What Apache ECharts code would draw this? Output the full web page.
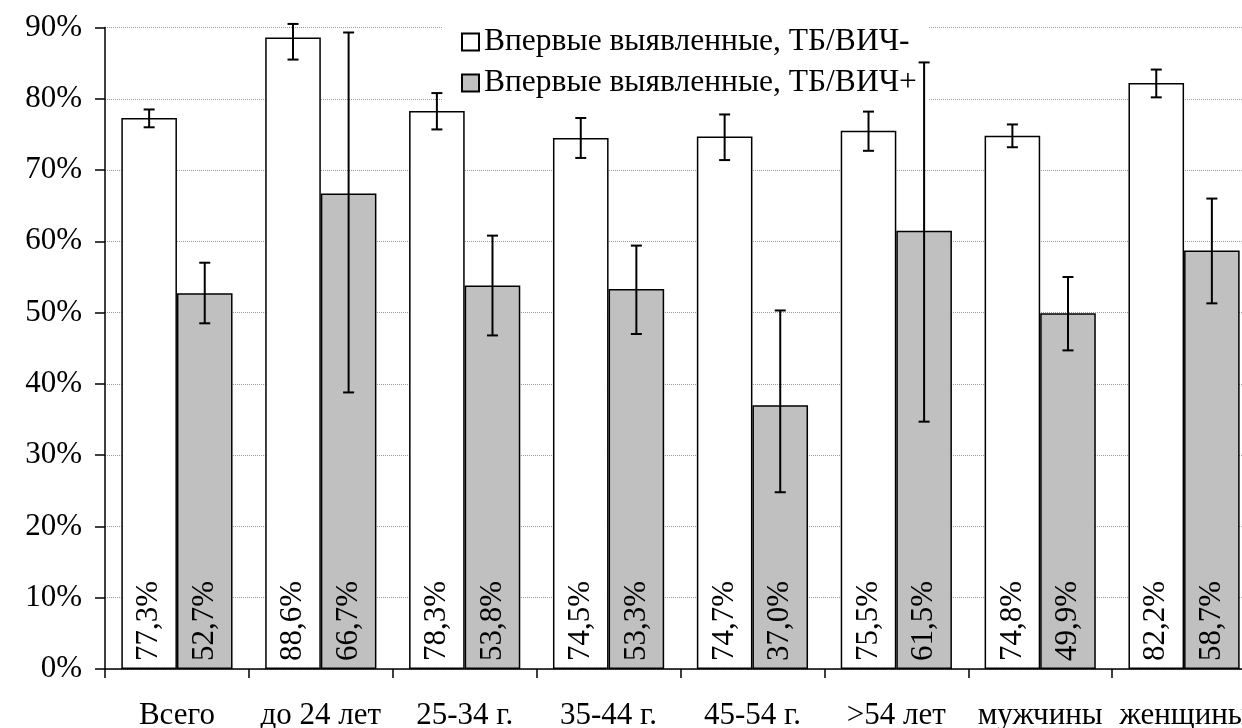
<!DOCTYPE html>
<html>
<head>
<meta charset="utf-8">
<script src="https://cdn.jsdelivr.net/npm/echarts@6/dist/echarts.min.js"></script>
<style>
html,body{margin:0;padding:0;background:#fff;}
#chart{width:1242px;height:728px;}
</style>
</head>
<body>
<div id="chart"></div>
<script>
const categories = ['Всего', 'до 24 лет', '25-34 г.', '35-44 г.', '45-54 г.', '>54 лет', 'мужчины', 'женщины'];
const seriesNames = ['Впервые выявленные, ТБ/ВИЧ-', 'Впервые выявленные, ТБ/ВИЧ+'];
const hivNeg = [77.3, 88.6, 78.3, 74.5, 74.7, 75.5, 74.8, 82.2];
const hivPos = [52.7, 66.7, 53.8, 53.3, 37.0, 61.5, 49.9, 58.7];
const hivNegLow  = [76.0, 85.5, 75.7, 71.7, 71.4, 72.7, 73.2, 80.2];
const hivNegHigh = [78.5, 90.5, 80.8, 77.3, 77.8, 78.2, 76.4, 84.1];
const hivPosLow  = [48.5, 38.8, 46.8, 47.0, 24.8, 34.7, 44.7, 51.3];
const hivPosHigh = [57.0, 89.3, 60.8, 59.4, 50.3, 85.1, 55.0, 66.0];
const yTicks = [0, 10, 20, 30, 40, 50, 60, 70, 80, 90];

const FONT = 'Liberation Serif';
const FS = 31;
const BAR_W = 55.6;

function errData(lo, hi) {
  return categories.map((c, i) => [i, lo[i], hi[i]]);
}
function errSeries(lo, hi, offset) {
  return {
    type: 'custom',
    z: 5,
    silent: true,
    data: errData(lo, hi),
    encode: { x: 0, y: [1, 2] },
    renderItem: function (params, api) {
      const p1 = api.coord([api.value(0), api.value(1)]);
      const p2 = api.coord([api.value(0), api.value(2)]);
      const x = p1[0] + offset;
      const cap = 5.5;
      const st = { stroke: '#000', lineWidth: 2 };
      return {
        type: 'group',
        children: [
          { type: 'line', shape: { x1: x, y1: p1[1], x2: x, y2: p2[1] }, style: st },
          { type: 'line', shape: { x1: x - cap, y1: p1[1], x2: x + cap, y2: p1[1] }, style: st },
          { type: 'line', shape: { x1: x - cap, y1: p2[1], x2: x + cap, y2: p2[1] }, style: st }
        ]
      };
    }
  };
}
const labelCfg = {
  show: true,
  position: 'insideBottom',
  rotate: 90,
  align: 'left',
  verticalAlign: 'middle',
  distance: 8,
  fontFamily: FONT,
  fontSize: FS,
  color: '#000',
  formatter: function (p) { return p.value.toFixed(1).replace('.', ',') + '%'; }
};

const chart = echarts.init(document.getElementById('chart'));
chart.setOption({
  animation: false,
  backgroundColor: '#fff',
  textStyle: { fontFamily: FONT },
  grid: { left: 105, right: -14, top: 27.5, bottom: 59, containLabel: false, outerBoundsMode: 'none' },
  legend: {
    z: 1,
    orient: 'vertical',
    left: 442,
    top: 20,
    padding: [6, 12, 4, 19],
    backgroundColor: '#fff',
    itemWidth: 17,
    itemHeight: 17,
    itemGap: 9,
    icon: 'rect',
    textStyle: { fontFamily: FONT, fontSize: 31.5, color: '#000', lineHeight: 31 },
    data: seriesNames
  },
  xAxis: {
    type: 'category',
    data: categories,
    axisLine: { lineStyle: { color: '#000', width: 1.5 } },
    axisTick: { show: true, length: 9, lineStyle: { color: '#000', width: 1.5 } },
    axisLabel: { margin: 31, fontFamily: FONT, fontSize: FS, color: '#000', interval: 0, hideOverlap: false },
    splitLine: { show: false }
  },
  yAxis: {
    type: 'value',
    min: yTicks[0],
    max: yTicks[yTicks.length - 1],
    interval: 10,
    axisLine: { show: true, lineStyle: { color: '#000', width: 1.5 } },
    axisTick: { show: true, length: 10, lineStyle: { color: '#000', width: 1.5 } },
    axisLabel: { margin: 23, fontFamily: FONT, fontSize: FS, color: '#000', formatter: '{value}%' },
    splitLine: { show: true, lineStyle: { color: '#9a9a9a', type: 'dotted', width: 1 } }
  },
  series: [
    {
      name: seriesNames[0], type: 'bar', z: 2, barWidth: BAR_W, barGap: '0%',
      data: hivNeg,
      itemStyle: { color: '#ffffff', borderColor: '#000', borderWidth: 1.5 },
      label: labelCfg
    },
    {
      name: seriesNames[1], type: 'bar', z: 2, barWidth: BAR_W, barGap: '0%',
      data: hivPos,
      itemStyle: { color: '#c0c0c0', borderColor: '#000', borderWidth: 1.5 },
      label: labelCfg
    },
    errSeries(hivNegLow, hivNegHigh, -BAR_W / 2),
    errSeries(hivPosLow, hivPosHigh, BAR_W / 2)
  ]
});
</script>
</body>
</html>
